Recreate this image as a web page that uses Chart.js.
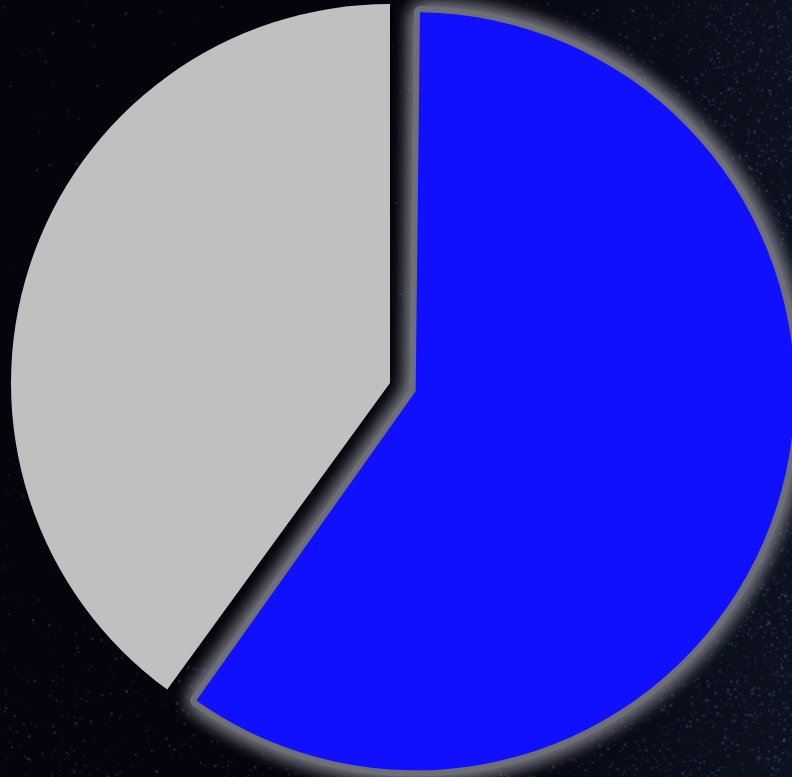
<!DOCTYPE html>
<html>
<head>
<meta charset="utf-8">
<title>Share</title>
<script src="https://cdn.jsdelivr.net/npm/chart.js@4/dist/chart.umd.min.js"></script>
<style>
  html, body { margin: 0; padding: 0; background: #04040d; }
  #wrap { position: relative; width: 792px; height: 777px; overflow: hidden; }
  #sky, #chart { position: absolute; left: 0; top: 0; }
</style>
</head>
<body>
<div id="wrap">
  <canvas id="sky" width="792" height="777"></canvas>
  <canvas id="chart" width="792" height="777"></canvas>
</div>
<script>
// Slice data
const categories = ['Series A', 'Series B'];
const shareValues = [60, 40];
const sliceColors = ['#1010ff', '#c0c0c0'];
const sliceOffsets = [108, 0];
// Halo stroke around each slice (0 = none)
const haloWidths = [12, 0];

// Night-sky backdrop: dark base with a faint speckled haze toward the right
(function drawSky() {
  const c = document.getElementById('sky');
  const ctx = c.getContext('2d');
  const W = c.width, H = c.height;
  ctx.fillStyle = '#04040d';
  ctx.fillRect(0, 0, W, H);
  const haze = ctx.createLinearGradient(420, 0, W, 0);
  haze.addColorStop(0, 'rgba(20,28,45,0)');
  haze.addColorStop(1, 'rgba(20,28,45,0.55)');
  ctx.fillStyle = haze;
  ctx.fillRect(0, 0, W, H);
  let s = 1234567;
  const rnd = () => { s = (s * 1664525 + 1013904223) >>> 0; return s / 4294967296; };
  for (let i = 0; i < 22000; i++) {
    const x = rnd() * W, y = rnd() * H;
    const right = Math.max(0, (x - 420) / 372);
    const low = Math.max(0, (y - 560) / 217) * 0.6;
    const dens = Math.min(1, 0.03 + right * right * 0.9 + low * 0.4);
    if (rnd() > dens) continue;
    const a = 0.08 + rnd() * 0.22;
    ctx.fillStyle = 'rgba(95,110,140,' + a.toFixed(3) + ')';
    const r = 1 + rnd() * 2;
    ctx.fillRect(x, y, r, r);
  }
})();

// Keeps exploded slices at the common radius and paints a soft halo
// behind any slice that has a halo width.
const haloPlugin = {
  id: 'sliceHalo',
  afterDatasetUpdate(chart, args) {
    const meta = chart.getDatasetMeta(args.index);
    meta.data.forEach((arc, i) => {
      const off = sliceOffsets[i] || 0;
      arc.outerRadius = meta.controller.outerRadius - off / 4;
    });
  },
  beforeDatasetsDraw(chart) {
    const ctx = chart.ctx;
    chart.getDatasetMeta(0).data.forEach((arc, i) => {
      if (!haloWidths[i]) return;
      const halo = Object.create(arc);
      halo.options = Object.assign({}, arc.options, {
        backgroundColor: '#6e6e76',
        borderColor: '#6e6e76',
        borderWidth: haloWidths[i],
        borderAlign: 'center',
        borderJoinStyle: 'round'
      });
      ctx.save();
      ctx.shadowColor = 'rgba(130,130,140,0.9)';
      ctx.shadowBlur = 20;
      halo.draw(ctx);
      halo.draw(ctx);
      ctx.restore();
    });
  }
};

new Chart(document.getElementById('chart'), {
  type: 'pie',
  data: {
    labels: categories,
    datasets: [{
      data: shareValues,
      backgroundColor: sliceColors,
      borderWidth: 0,
      offset: sliceOffsets,
      hoverOffset: 0
    }]
  },
  options: {
    responsive: false,
    animation: false,
    radius: 379,
    layout: { padding: { left: 0, top: 0, right: 12, bottom: 11 } },
    plugins: {
      legend: { display: false },
      tooltip: { enabled: false }
    },
    events: []
  },
  plugins: [haloPlugin]
});
</script>
</body>
</html>
